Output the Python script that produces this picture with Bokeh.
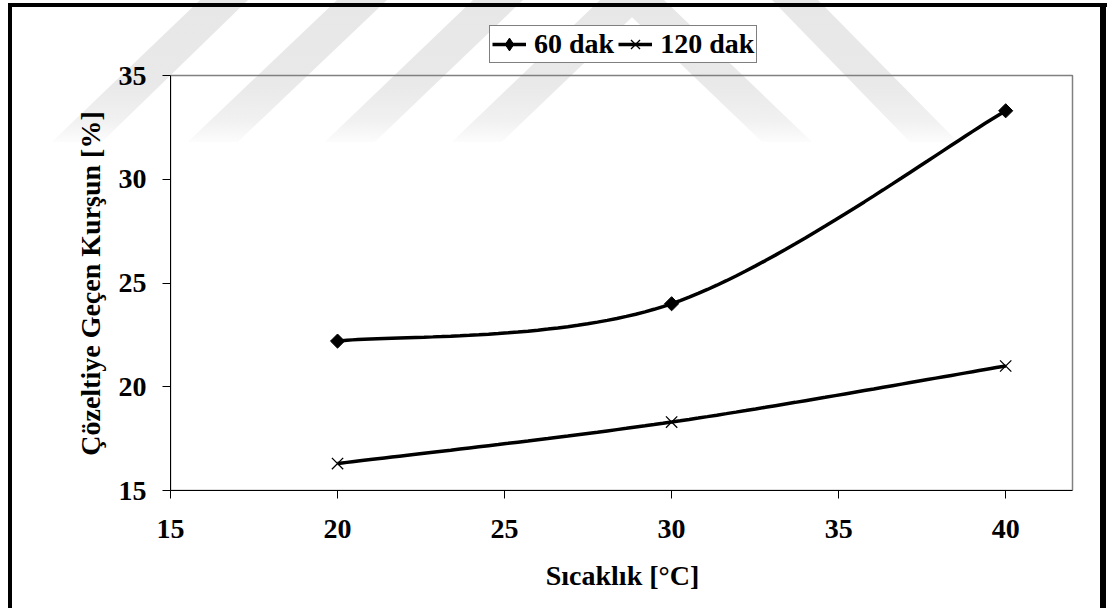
import urllib.parse
import numpy as np
from bokeh.plotting import figure
from bokeh.models import FixedTicker, Legend, LegendItem
from bokeh.embed import file_html
from bokeh.resources import INLINE

# Leached lead (%) versus temperature for two leaching times
temperature = [20, 30, 40]
leached_60 = [22.2, 24.0, 33.3]
leached_120 = [16.3, 18.3, 21.0]
series_labels = ["60 dak", "120 dak"]
x_ticks = [15, 20, 25, 30, 35, 40]
y_ticks = [15, 20, 25, 30, 35]
x_min, x_max = 15, 42
y_min, y_max = 15, 35
x_title = "Sıcaklık [°C]"
y_title = "Çözeltiye Geçen Kurşun [%]"

FONT = "Liberation Serif"
W, H = 1113, 608

# plot box placement on the page (pixels)
BOX_LEFT, BOX_RIGHT, BOX_TOP, BOX_BOTTOM = 170, 1072, 75, 490
FRAME_TOP = 20          # drawing area reaches up to hold the legend
RIGHT_PAD = 2           # keeps the box's right edge inside the drawing area
# the y title is centred on the drawing area; trailing no-break spaces
# move it back to the middle of the plot box
Y_TITLE_PAD = "\u00a0" * 8

# Background chevron pattern (page pixels): x of band edges at y=0 and at y=137
BANDS = [
    (200, 248, 57, 107),
    (337, 387, 193, 243),
    (473, 523, 330, 380),
    (600, 650, 457, 507),
    (614, 664, 757, 807),
    (772, 818, 905, 953),
]


def smooth(xs, ys, n=40):
    """Piecewise cubic Bezier through the points (spreadsheet-style smoothed line)."""
    pts = np.column_stack([xs, ys]).astype(float)
    m = len(pts)
    out = [pts[0]]
    t = np.linspace(0, 1, n)[1:, None]
    for i in range(m - 1):
        p0 = pts[i - 1] if i > 0 else pts[i]
        p1, p2 = pts[i], pts[i + 1]
        p3 = pts[i + 2] if i + 2 < m else pts[i + 1]
        c1 = p1 + (p2 - p0) / 6
        c2 = p2 - (p3 - p1) / 6
        seg = (1 - t) ** 3 * p1 + 3 * (1 - t) ** 2 * t * c1 + 3 * (1 - t) * t ** 2 * c2 + t ** 3 * p2
        out.extend(seg)
    out = np.array(out)
    return out[:, 0], out[:, 1]


def page_background():
    """White page with faded chevron bands and a heavy black page frame."""
    y_end = 142.0
    polys = []
    for tl, tr, bl, br in BANDS:
        bx_l = tl + (bl - tl) * y_end / 137.0
        bx_r = tr + (br - tr) * y_end / 137.0
        polys.append(f"<polygon points='{tl},0 {tr},0 {bx_r:.1f},{y_end} {bx_l:.1f},{y_end}' fill='url(#fade)'/>")
    svg = (
        f"<svg xmlns='http://www.w3.org/2000/svg' width='{W}' height='{H}'>"
        "<defs><linearGradient id='fade' gradientUnits='userSpaceOnUse' x1='0' y1='0' x2='0' y2='142'>"
        "<stop offset='0' stop-color='#e7e7e7'/><stop offset='0.6' stop-color='#e9e9e9'/>"
        "<stop offset='0.85' stop-color='#f1f1f1'/><stop offset='1' stop-color='#fcfcfc'/>"
        "</linearGradient></defs>"
        f"<rect width='{W}' height='{H}' fill='white'/>"
        + "".join(polys)
        + "<rect x='8' y='3' width='4' height='620' fill='black'/>"
        + "<rect x='8' y='3' width='1099' height='4' fill='black'/>"
        + "<rect x='1100' y='3' width='6' height='620' fill='black'/>"
        + "</svg>"
    )
    return "url(\"data:image/svg+xml;utf8," + urllib.parse.quote(svg) + "\")"


# ranges extended so the data box sits at the wanted pixels
y_per_px = (y_max - y_min) / (BOX_BOTTOM - BOX_TOP)
x_per_px = (x_max - x_min) / (BOX_RIGHT - BOX_LEFT)
y_top = y_max + (BOX_TOP - FRAME_TOP) * y_per_px
x_end = x_max + RIGHT_PAD * x_per_px

p = figure(
    width=W, height=H,
    x_range=(x_min, x_end), y_range=(y_min, y_top),
    output_backend="svg", toolbar_location=None,
    min_border_left=BOX_LEFT, min_border_right=W - BOX_RIGHT - RIGHT_PAD,
    min_border_top=FRAME_TOP, min_border_bottom=H - BOX_BOTTOM,
)
p.background_fill_alpha = 0
p.border_fill_alpha = 0
p.styles = {"background-image": page_background(), "background-repeat": "no-repeat"}
p.outline_line_color = None
p.xgrid.visible = False
p.ygrid.visible = False

# plot-area border
p.quad(left=x_min, right=x_max, bottom=y_min, top=y_max,
       fill_color=None, line_color="#808080", line_width=1.5)

sx1, sy1 = smooth(temperature, leached_60)
sx2, sy2 = smooth(temperature, leached_120)

l1 = p.line(sx1, sy1, line_color="black", line_width=3.5)
m1 = p.scatter(temperature, leached_60, marker="square", angle=np.pi / 4, size=10,
               fill_color="black", line_color="black")
# diamond used only for the legend swatch (no visible points)
k1 = p.scatter([np.nan], [np.nan], marker="diamond", size=16,
               fill_color="black", line_color="black")
l2 = p.line(sx2, sy2, line_color="black", line_width=3.5)
m2 = p.scatter(temperature, leached_120, marker="x", size=16, line_color="black",
               line_width=1.3)

for ax in (p.xaxis[0], p.yaxis[0]):
    ax.axis_line_color = "black"
    ax.axis_line_width = 1
    ax.major_tick_line_color = "black"
    ax.major_tick_in = 0
    ax.major_tick_out = 8
    ax.minor_tick_line_color = None
    ax.major_label_text_font = FONT
    ax.major_label_text_font_style = "bold"
    ax.major_label_text_font_size = "28px"
    ax.major_label_text_color = "black"
    ax.axis_label_text_font = FONT
    ax.axis_label_text_font_style = "bold"
    ax.axis_label_text_font_size = "28px"
    ax.axis_label_text_color = "black"

p.xaxis.ticker = FixedTicker(ticks=x_ticks)
p.yaxis.ticker = FixedTicker(ticks=y_ticks)
p.xaxis.bounds = (x_min, x_max)
p.yaxis.bounds = (y_min, y_max)
p.xaxis.axis_label = x_title
p.yaxis.axis_label = y_title + Y_TITLE_PAD
p.xaxis.major_label_standoff = 21
p.xaxis.axis_label_standoff = 19
p.yaxis.major_label_standoff = 16
p.yaxis.axis_label_standoff = 10

legend = Legend(
    items=[LegendItem(label=series_labels[0], renderers=[l1, k1]),
           LegendItem(label=series_labels[1], renderers=[l2, m2])],
    orientation="horizontal", location=(319, BOX_BOTTOM - 63),
    glyph_width=34, glyph_height=32, label_standoff=8, spacing=4,
    padding=2, margin=0,
    border_line_color="black", border_line_width=1,
    background_fill_color="white", background_fill_alpha=1.0,
    label_text_font=FONT, label_text_font_style="bold",
    label_text_font_size="28px", label_text_color="black",
)
p.add_layout(legend, "center")

open("out.html", "w").write(file_html(p, INLINE))
